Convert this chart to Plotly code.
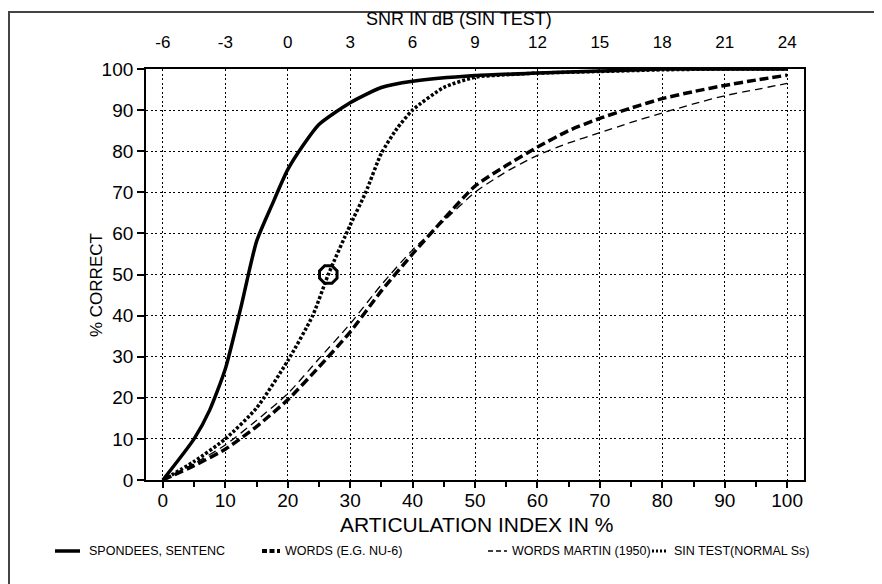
import plotly.graph_objects as go

# ---------------- data ----------------
ai_spondees = [0, 5, 7.5, 10, 12.5, 15, 17.5, 20, 22.5, 25, 30, 35, 40, 50, 60, 70, 80, 90, 100]
pct_spondees = [0, 10, 17, 27, 42, 58, 67, 75.5, 81.5, 86.5, 91.8, 95.5, 97, 98.4, 99, 99.5, 100, 100, 100]

ai_sin = [0, 5, 10, 15, 20, 24, 26.5, 30, 32.5, 35, 37.5, 40, 45, 50, 55, 60, 70, 80, 90, 100]
pct_sin = [0, 4.5, 10, 17.5, 29, 40, 50, 62, 70, 79.5, 85.5, 90, 95.5, 98, 98.6, 99, 99.4, 99.8, 100, 100]

ai_words = [0, 5, 10, 15, 20, 25, 30, 35, 40, 45, 50, 55, 60, 65, 70, 75, 80, 85, 90, 95, 100]
pct_words = [0, 3.5, 7.5, 13, 19.5, 27.5, 36, 46, 55, 63.5, 71.5, 76.5, 81, 85, 88, 90.5, 92.8, 94.5, 96, 97.3, 98.5]

ai_martin = [0, 5, 10, 15, 20, 25, 30, 35, 40, 45, 50, 55, 60, 65, 70, 75, 80, 85, 90, 95, 100]
pct_martin = [0, 4, 8.5, 14.5, 21, 29.5, 38, 47.5, 56, 63, 70, 75, 79, 82, 84.5, 87, 89.3, 91.5, 93.5, 95, 96.5]

marker_ai = [26.5]
marker_pct = [50]

ai_ticks = [0, 10, 20, 30, 40, 50, 60, 70, 80, 90, 100]
pct_ticks = [0, 10, 20, 30, 40, 50, 60, 70, 80, 90, 100]
snr_ticks = [-6, -3, 0, 3, 6, 9, 12, 15, 18, 21, 24]

legend_labels = ["SPONDEES, SENTENC", "WORDS (E.G. NU-6)", "WORDS MARTIN (1950)", "SIN TEST(NORMAL Ss)"]

top_title = "SNR IN dB (SIN TEST)"
x_title = "ARTICULATION INDEX IN %"
y_title = "% CORRECT"

# ---------------- layout geometry ----------------
# the page body has an 8px margin, so the figure is drawn 8px smaller
OFF = 8
W, H = 882 - OFF, 584 - OFF
PLOT_L, PLOT_R, PLOT_T, PLOT_B = 146, 804, 69, 480   # window pixels of the plot area
L, T = PLOT_L - OFF, PLOT_T - OFF
R, B = W - (PLOT_R - OFF), H - (PLOT_B - OFF)
PW, PH = PLOT_R - PLOT_L, PLOT_B - PLOT_T
X_RANGE = [-2.7, 102.7]


def px(x):  # window pixel -> paper
    return (x - PLOT_L) / PW


def py(y):
    return (PLOT_B - y) / PH


FONT = "Liberation Sans, Arial, sans-serif"

fig = go.Figure()

common = dict(mode="lines", showlegend=False, hoverinfo="skip", line_shape="spline")
fig.add_trace(go.Scatter(x=ai_martin, y=pct_martin, line=dict(color="black", width=1.3, dash="8px,5px", smoothing=0.6), **common))
fig.add_trace(go.Scatter(x=ai_words, y=pct_words, line=dict(color="black", width=3.5, dash="9px,4px", smoothing=0.6), **common))
fig.add_trace(go.Scatter(x=ai_sin, y=pct_sin, line=dict(color="black", width=3.5, dash="3px,2px", smoothing=0.6), **common))
fig.add_trace(go.Scatter(x=ai_spondees, y=pct_spondees, line=dict(color="black", width=3.5, smoothing=0.6), **common))
fig.add_trace(go.Scatter(x=marker_ai, y=marker_pct, mode="markers", showlegend=False, hoverinfo="skip",
                         marker=dict(symbol="octagon-open", size=19, color="black", line=dict(width=3, color="black"))))

# invisible trace so the top SNR axis is drawn
fig.add_trace(go.Scatter(x=snr_ticks, y=[0] * len(snr_ticks), xaxis="x2", mode="markers",
                         marker=dict(opacity=0), showlegend=False, hoverinfo="skip"))

fig.update_layout(
    width=W, height=H,
    margin=dict(l=L, r=R, t=T, b=B, autoexpand=False),
    paper_bgcolor="white", plot_bgcolor="white",
    font=dict(family=FONT, color="black"),
    xaxis=dict(
        range=X_RANGE, tickvals=ai_ticks, ticktext=[str(v) for v in ai_ticks],
        showgrid=True, gridcolor="black", gridwidth=1.3, griddash="2px,2.5px",
        zeroline=False, showline=True, linecolor="black", linewidth=1.8, mirror=True,
        ticks="outside", ticklen=6, tickwidth=1.5, tickcolor="black", ticklabelstandoff=-4,
        minor=dict(dtick=5, tick0=0, ticks="outside", ticklen=5, tickwidth=1.5, tickcolor="black", showgrid=False),
        tickfont=dict(size=19, family=FONT),
    ),
    xaxis2=dict(
        overlaying="x", side="top", range=[-6 + 0.3 * X_RANGE[0], -6 + 0.3 * X_RANGE[1]],
        tickvals=snr_ticks, ticktext=[str(v) for v in snr_ticks],
        showgrid=False, zeroline=False, showline=False,
        ticks="outside", ticklen=13, tickcolor="rgba(0,0,0,0)",
        tickfont=dict(size=17, family=FONT),
    ),
    yaxis=dict(
        range=[0, 100], tickvals=pct_ticks, ticktext=[str(v) for v in pct_ticks],
        showgrid=True, gridcolor="black", gridwidth=1.3, griddash="2px,2.5px",
        zeroline=False, showline=True, linecolor="black", linewidth=1.8, mirror=True,
        ticks="outside", ticklen=7, tickwidth=1.5, tickcolor="black",
        tickfont=dict(size=19, family=FONT),
    ),
)

annotations = [
    dict(text=top_title, x=px(459), y=py(19), font=dict(size=18, family=FONT)),
    dict(text=x_title, x=px(476), y=py(524), font=dict(size=21, family=FONT)),
    dict(text=y_title, x=px(96), y=py(285), font=dict(size=17, family=FONT), textangle=-90),
]

# legend (manual, matching the original's placement)
legend_text_x = [87, 283, 510, 672]
legend_line = [
    (55, 80, dict(color="black", width=3.5)),
    (262, 280, dict(color="black", width=4, dash="5px,2.5px")),
    (488, 507, dict(color="black", width=1.3, dash="5px,3px")),
    (652, 668, dict(color="black", width=3, dash="2px,2px")),
]
LEG_Y = 551
for tx, lab in zip(legend_text_x, legend_labels):
    annotations.append(dict(text=lab, x=px(tx), y=py(LEG_Y), xanchor="left",
                            font=dict(size=12.5, family=FONT)))

for a in annotations:
    a.setdefault("xanchor", "center")
    a.update(xref="paper", yref="paper", yanchor="middle", showarrow=False)

shapes = []
for x0, x1, ln in legend_line:
    shapes.append(dict(type="line", xref="paper", yref="paper", x0=px(x0), x1=px(x1),
                       y0=py(LEG_Y), y1=py(LEG_Y), line=ln))
# outer frame of the figure
shapes.append(dict(type="rect", xref="paper", yref="paper", x0=px(9), x1=px(920), y0=py(12), y1=py(640),
                   line=dict(color="#444", width=2)))

fig.update_layout(annotations=annotations, shapes=shapes)

fig.write_html("out.html")
